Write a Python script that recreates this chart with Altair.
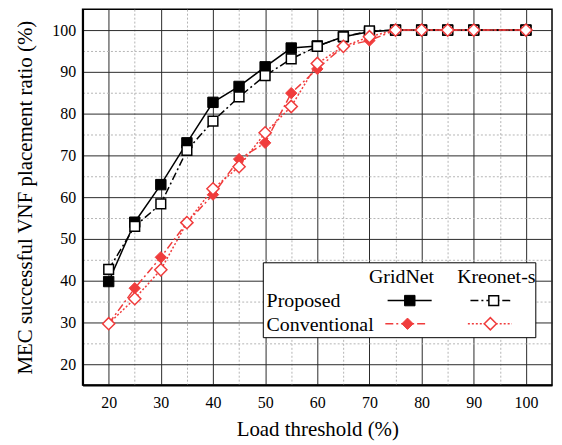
import altair as alt
import pandas as pd

# ---------------- data ----------------
load = [20, 25, 30, 35, 40, 45, 50, 55, 60, 65, 70, 75, 80, 85, 90, 100]
gridnet_proposed = [39.8, 54.0, 63.0, 73.0, 82.7, 86.5, 91.2, 95.7, 96.2, 98.4, 99.6, 100, 100, 100, 100, 100]
kreonet_proposed = [42.7, 53.0, 58.4, 71.2, 78.2, 84.0, 89.1, 93.1, 96.1, 98.4, 99.8, 100, 100, 100, 100, 100]
gridnet_conventional = [29.7, 38.2, 45.6, 53.9, 60.6, 69.1, 73.0, 84.9, 90.7, 96.1, 97.5, 100, 100, 100, 100, 100]
kreonet_conventional = [29.7, 35.7, 42.6, 53.9, 62.0, 67.3, 75.4, 81.7, 92.0, 96.1, 98.4, 100, 100, 100, 100, 100]

x_ticks = list(range(20, 101, 5))
y_ticks = list(range(20, 101, 5))
x_title = "Load threshold (%)"
y_title = "MEC successful VNF placement ratio (%)"
col_headers = ["GridNet", "Kreonet-s"]
row_headers = ["Proposed", "Conventional"]

FONT = "Liberation Serif"
RED = "#f03c3c"

minor_test = "datum.value % 10 === 5"
grid_color = {"condition": {"test": minor_test, "value": "#b4b4b4"}, "value": "#2a2a2a"}
grid_dash = {"condition": {"test": minor_test, "value": [2, 2]}, "value": []}

xscale = alt.Scale(domain=[15, 105], nice=False, zero=False)
yscale = alt.Scale(domain=[15, 105], nice=False, zero=False)

xaxis = alt.Axis(
    values=x_ticks, labelExpr="datum.value % 10 === 0 ? datum.label : ''",
    grid=True, gridColor=grid_color, gridDash=grid_dash, gridWidth=1,
    tickSize=0, labelPadding=10, labelFont=FONT, labelFontSize=16, labelColor="black",
    domain=True, domainColor="black", domainWidth=2,
    title=x_title, titleFont=FONT, titleFontSize=21, titleFontWeight="normal",
    titleColor="black", titlePadding=8,
)
yaxis = alt.Axis(
    values=y_ticks, labelExpr="datum.value % 10 === 0 ? datum.label : ''",
    grid=True, gridColor=grid_color, gridDash=grid_dash, gridWidth=1,
    tickSize=0, labelPadding=7, labelFont=FONT, labelFontSize=16, labelColor="black",
    domain=True, domainColor="black", domainWidth=2,
    title=y_title, titleFont=FONT, titleFontSize=21, titleFontWeight="normal",
    titleColor="black", titlePadding=16,
)

X = alt.X("load:Q", scale=xscale, axis=xaxis)
Y = alt.Y("value:Q", scale=yscale, axis=yaxis)


def series(values, color, dash, shape, filled, size):
    d = pd.DataFrame({"load": load, "value": values})
    base = alt.Chart(d).encode(x=X, y=Y)
    line_kw = dict(color=color, strokeWidth=1.5)
    if dash:
        line_kw["strokeDash"] = dash
    line = base.mark_line(**line_kw)
    if filled:
        pts = base.mark_point(shape=shape, filled=True, fill=color, stroke=color,
                              strokeWidth=1, size=size, opacity=1)
    else:
        pts = base.mark_point(shape=shape, filled=True, fill="white", stroke=color,
                              strokeWidth=1.5, size=size, opacity=1)
    return [line, pts]


DASHDOT = [8, 3, 2, 3]
DOT = [2, 2]

layers = []
layers += series(gridnet_proposed, "black", None, "square", True, 110)
layers += series(kreonet_proposed, "black", DASHDOT, "square", False, 95)
layers += series(gridnet_conventional, RED, DASHDOT, "diamond", True, 130)
layers += series(kreonet_conventional, RED, DOT, "diamond", False, 150)

# ---------------- custom legend ----------------
one = alt.Data(values=[{}])
leg = []
leg.append(alt.Chart(one).mark_rect(fill="white", stroke="black", strokeWidth=1).encode(
    x=alt.value(181.7), x2=alt.value(455.7), y=alt.value(255), y2=alt.value(330.3)))
for txt, xx in zip(col_headers, [320.7, 416]):
    leg.append(alt.Chart(one).mark_text(text=txt, font=FONT, fontSize=20, align="center",
                                        baseline="alphabetic", color="black").encode(
        x=alt.value(xx), y=alt.value(275.3)))
for txt, yy in zip(row_headers, [299.7, 323.7]):
    leg.append(alt.Chart(one).mark_text(text=txt, font=FONT, fontSize=20, align="left",
                                        baseline="alphabetic", color="black").encode(
        x=alt.value(185), y=alt.value(yy)))


def leg_sample(x1, x2, xm, yy, color, dash, shape, filled, size):
    out = []
    rule_kw = dict(color=color, strokeWidth=1.5)
    if dash:
        rule_kw["strokeDash"] = dash
    out.append(alt.Chart(one).mark_rule(**rule_kw).encode(
        x=alt.value(x1), x2=alt.value(x2), y=alt.value(yy)))
    if filled:
        out.append(alt.Chart(one).mark_point(shape=shape, filled=True, fill=color, stroke=color,
                                             strokeWidth=1, size=size, opacity=1).encode(
            x=alt.value(xm), y=alt.value(yy)))
    else:
        out.append(alt.Chart(one).mark_point(shape=shape, filled=True, fill="white", stroke=color,
                                             strokeWidth=1.5, size=size, opacity=1).encode(
            x=alt.value(xm), y=alt.value(yy)))
    return out


leg += leg_sample(306.7, 351, 329, 293, "black", None, "square", True, 110)
leg += leg_sample(390, 431.7, 413.4, 293, "black", DASHDOT, "square", False, 95)
leg += leg_sample(304.4, 347.4, 326.7, 316.3, RED, DASHDOT, "diamond", True, 130)
leg += leg_sample(387.4, 431.7, 410, 316.3, RED, DOT, "diamond", False, 150)

chart = alt.layer(*layers, *leg).properties(
    width=472, height=378,
    autosize=alt.AutoSizeParams(type="none"),
    padding={"left": 75, "top": 0, "right": 2, "bottom": 56},
    background="white",
).configure_view(
    stroke="black", strokeWidth=1.5
).configure_axis(
    labelFont=FONT, titleFont=FONT
).configure_text(
    font=FONT
)

chart.save("out.html", embed_options={"renderer": "svg", "actions": False})
